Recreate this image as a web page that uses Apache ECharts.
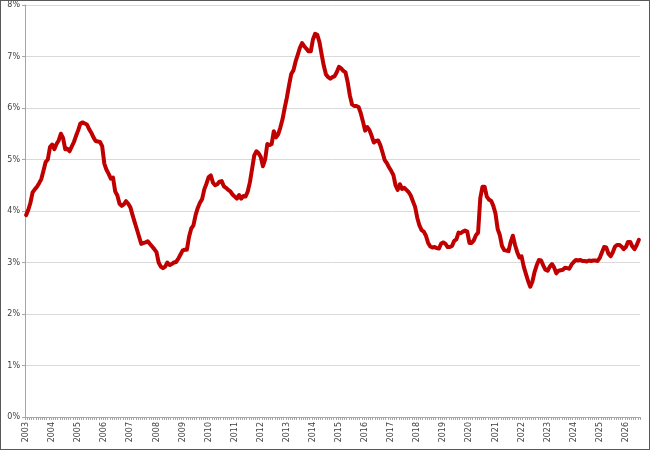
<!DOCTYPE html>
<html>
<head>
    <meta charset="utf-8">
    <title>rate</title>
    <script src="https://cdn.jsdelivr.net/npm/echarts@6/dist/echarts.min.js"></script>
    <style>
        html, body { margin: 0; padding: 0; background: #fff; }
        #chart { width: 650px; height: 450px; box-sizing: border-box; border: 1px solid #595959; }
    </style>
</head>
<body>
<div id="chart"></div>
<script>
    // first month of the series, one value per month
    var startYear = 2003;

    // monthly values in %, one row per year
    var rate = [
        3.92, 4.02, 4.16, 4.36, 4.42, 4.47, 4.54, 4.62, 4.78, 4.95, 5.00, 5.24, // 2003
        5.29, 5.20, 5.30, 5.37, 5.50, 5.42, 5.20, 5.21, 5.16, 5.25, 5.34, 5.46, // 2004
        5.57, 5.70, 5.72, 5.70, 5.68, 5.59, 5.52, 5.43, 5.36, 5.35, 5.34, 5.26, // 2005
        4.92, 4.80, 4.72, 4.63, 4.65, 4.38, 4.30, 4.14, 4.10, 4.13, 4.19, 4.14, // 2006
        4.07, 3.92, 3.78, 3.64, 3.50, 3.36, 3.38, 3.39, 3.41, 3.36, 3.31, 3.26, // 2007
        3.20, 3.00, 2.92, 2.89, 2.92, 3.00, 2.95, 2.97, 3.00, 3.01, 3.07, 3.15, // 2008
        3.23, 3.25, 3.25, 3.50, 3.66, 3.72, 3.92, 4.06, 4.16, 4.23, 4.42, 4.53, // 2009
        4.66, 4.69, 4.55, 4.50, 4.52, 4.57, 4.58, 4.48, 4.45, 4.41, 4.38, 4.32, // 2010
        4.28, 4.24, 4.31, 4.24, 4.29, 4.28, 4.38, 4.56, 4.82, 5.08, 5.16, 5.12, // 2011
        5.05, 4.87, 5.00, 5.30, 5.28, 5.30, 5.55, 5.43, 5.49, 5.62, 5.78, 6.00, // 2012
        6.20, 6.44, 6.66, 6.73, 6.90, 7.03, 7.17, 7.26, 7.20, 7.15, 7.10, 7.10, // 2013
        7.33, 7.44, 7.42, 7.28, 7.04, 6.82, 6.65, 6.60, 6.57, 6.60, 6.62, 6.70, // 2014
        6.80, 6.77, 6.72, 6.69, 6.50, 6.24, 6.07, 6.04, 6.04, 6.02, 5.90, 5.74, // 2015
        5.56, 5.63, 5.57, 5.46, 5.33, 5.36, 5.37, 5.28, 5.14, 4.99, 4.93, 4.85, // 2016
        4.78, 4.70, 4.50, 4.41, 4.52, 4.43, 4.45, 4.41, 4.37, 4.30, 4.19, 4.08, // 2017
        3.87, 3.72, 3.63, 3.60, 3.52, 3.38, 3.31, 3.29, 3.30, 3.28, 3.27, 3.37, // 2018
        3.39, 3.36, 3.30, 3.30, 3.32, 3.42, 3.45, 3.58, 3.57, 3.60, 3.62, 3.60, // 2019
        3.38, 3.38, 3.43, 3.53, 3.58, 4.25, 4.47, 4.47, 4.28, 4.22, 4.20, 4.10, // 2020
        3.95, 3.65, 3.53, 3.32, 3.24, 3.23, 3.22, 3.40, 3.52, 3.34, 3.20, 3.10, // 2021
        3.12, 2.92, 2.78, 2.64, 2.53, 2.63, 2.82, 2.95, 3.05, 3.04, 2.94, 2.86, // 2022
        2.84, 2.92, 2.97, 2.90, 2.79, 2.84, 2.85, 2.86, 2.90, 2.89, 2.88, 2.96, // 2023
        3.01, 3.05, 3.04, 3.05, 3.03, 3.03, 3.02, 3.04, 3.03, 3.04, 3.04, 3.03, // 2024
        3.09, 3.20, 3.30, 3.29, 3.17, 3.12, 3.20, 3.31, 3.34, 3.34, 3.31, 3.26, // 2025
        3.30, 3.40, 3.40, 3.31, 3.26, 3.34, 3.44                                // 2026
    ];

    // y axis ticks
    var yMin = 0, yMax = 8, yStep = 1;

    // month categories, label shown on january only
    var months = [];
    for (var i = 0; i < rate.length; i++) {
        var y = startYear + Math.floor(i / 12);
        var m = (i % 12) + 1;
        months.push(y + '-' + (m < 10 ? '0' + m : m));
    }

    var chart = echarts.init(document.getElementById('chart'));
    var labelFont = {
        color: '#404040',
        fontFamily: 'DejaVu Sans',
        fontSize: 8
    };

    chart.setOption({
        animation: false,
        grid: {
            left: 24,
            right: 9,
            top: 4,
            bottom: 32
        },
        xAxis: {
            type: 'category',
            data: months,
            boundaryGap: true,
            axisLine: { lineStyle: { color: '#a6a6a6', width: 1 } },
            axisTick: {
                show: true,
                interval: 0,
                length: 3,
                lineStyle: { color: '#a6a6a6' }
            },
            axisLabel: Object.assign({
                interval: 11,
                rotate: 90,
                margin: 5,
                formatter: function (v) { return v.slice(0, 4); }
            }, labelFont),
            splitLine: { show: false }
        },
        yAxis: {
            type: 'value',
            min: yMin,
            max: yMax,
            interval: yStep,
            axisLine: { show: true, lineStyle: { color: '#a6a6a6', width: 1 } },
            axisTick: { show: true, length: 3, lineStyle: { color: '#a6a6a6' } },
            axisLabel: Object.assign({
                margin: 5,
                formatter: '{value}%'
            }, labelFont),
            splitLine: { lineStyle: { color: '#d9d9d9', width: 1 } }
        },
        series: [{
            name: 'rate',
            type: 'line',
            data: rate,
            showSymbol: false,
            smooth: false,
            lineStyle: { color: '#c00000', width: 4, join: 'round', cap: 'round' }
        }]
    });
</script>
</body>
</html>
